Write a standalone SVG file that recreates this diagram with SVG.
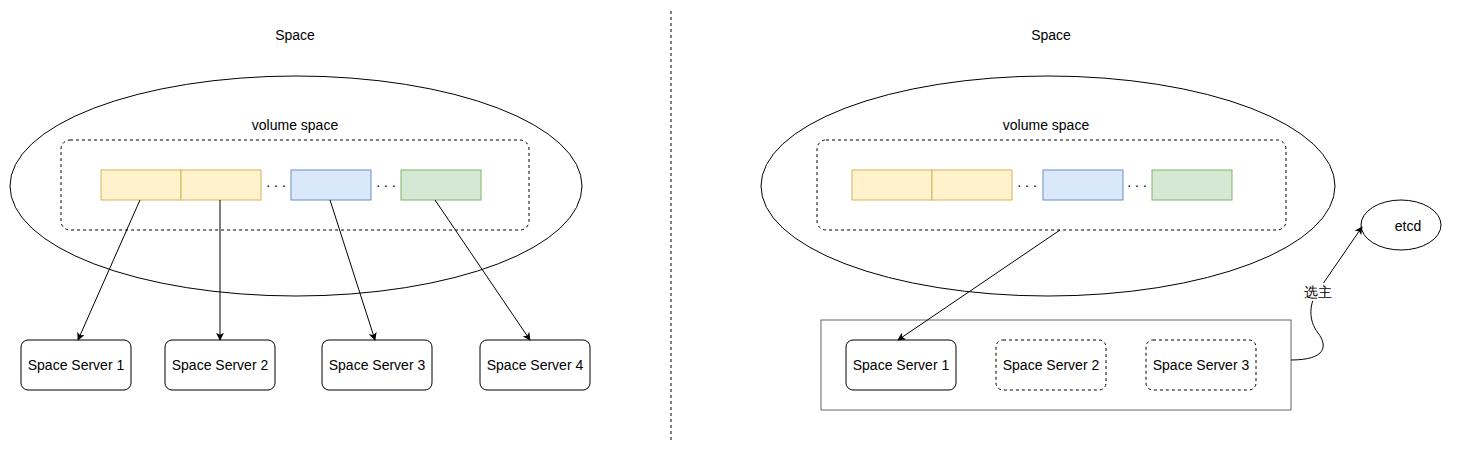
<svg xmlns="http://www.w3.org/2000/svg" width="1462" height="452" viewBox="0 0 1462 452">
<style>
text{font-family:"Liberation Sans",Arial,sans-serif;font-size:14px;fill:#000;text-anchor:middle;dominant-baseline:central}
.ell{fill:#fff;stroke:#000;stroke-width:1}
.dbox{fill:none;stroke:#000;stroke-width:1;stroke-dasharray:3 3}
.y{fill:#fff2cc;stroke:#d6b656}
.b{fill:#dae8fc;stroke:#6c8ebf}
.g{fill:#d5e8d4;stroke:#82b366}
.srv{fill:#fff;stroke:#000;stroke-width:1}
.srvd{fill:#fff;stroke:#000;stroke-width:1;stroke-dasharray:3 3}
.edge{fill:none;stroke:#000;stroke-width:1;marker-end:url(#arr)}
.dots{letter-spacing:4px}
</style>
<defs>
<marker id="arr" viewBox="0 0 10 10" refX="9" refY="5" markerWidth="8" markerHeight="8" markerUnits="userSpaceOnUse" orient="auto">
<path d="M0,0 L10,5 L0,10 L2.5,5 Z" fill="#000"/>
</marker>
</defs>
<rect width="1462" height="452" fill="#fff"/>
<g id="divider"><line x1="671" y1="11" x2="671" y2="440" stroke="#000" stroke-dasharray="3 3"/></g>

<g id="left-space">
<text x="295" y="35">Space</text>
<ellipse class="ell" cx="296" cy="186" rx="286" ry="110"/>
</g>
<g id="left-volume">
<rect class="dbox" x="61" y="140" width="468" height="90" rx="9"/>
<text x="295" y="125">volume space</text>
<rect class="y" x="101" y="170" width="80" height="30"/>
<rect class="y" x="181" y="170" width="80" height="30"/>
<text class="dots" x="278" y="182">...</text>
<rect class="b" x="291" y="170" width="80" height="30"/>
<text class="dots" x="388" y="182">...</text>
<rect class="g" x="401" y="170" width="80" height="30"/>
</g>
<g id="left-ss1"><rect class="srv" x="21" y="340" width="110" height="50" rx="7"/><text x="76" y="365">Space Server 1</text></g>
<g id="left-ss2"><rect class="srv" x="165" y="340" width="110" height="50" rx="7"/><text x="220" y="365">Space Server 2</text></g>
<g id="left-ss3"><rect class="srv" x="322" y="340" width="110" height="50" rx="7"/><text x="377" y="365">Space Server 3</text></g>
<g id="left-ss4"><rect class="srv" x="480" y="340" width="110" height="50" rx="7"/><text x="535" y="365">Space Server 4</text></g>

<g id="right-space">
<text x="1051" y="35">Space</text>
<ellipse class="ell" cx="1048" cy="186" rx="287" ry="110"/>
</g>
<g id="right-volume">
<rect class="dbox" x="817" y="140" width="469" height="90" rx="9"/>
<text x="1046" y="125">volume space</text>
<rect class="y" x="852" y="170" width="80" height="30"/>
<rect class="y" x="932" y="170" width="80" height="30"/>
<text class="dots" x="1029" y="182">...</text>
<rect class="b" x="1043" y="170" width="80" height="30"/>
<text class="dots" x="1139" y="182">...</text>
<rect class="g" x="1152" y="170" width="80" height="30"/>
</g>
<g id="cluster"><rect x="821" y="320" width="470" height="90" fill="none" stroke="#666"/></g>
<g id="right-ss1"><rect class="srv" x="846" y="340" width="110" height="50" rx="7"/><text x="901" y="365">Space Server 1</text></g>
<g id="right-ss2"><rect class="srvd" x="996" y="340" width="110" height="50" rx="7"/><text x="1051" y="365">Space Server 2</text></g>
<g id="right-ss3"><rect class="srvd" x="1146" y="340" width="110" height="50" rx="7"/><text x="1201" y="365">Space Server 3</text></g>
<g id="etcd"><ellipse class="ell" cx="1401" cy="225" rx="40" ry="25"/><text x="1408" y="226">etcd</text></g>

<g id="connectors">
<path class="edge" d="M140,200 L78,340"/>
<path class="edge" d="M220,200 L220,340"/>
<path class="edge" d="M330,200 L375,340"/>
<path class="edge" d="M435,200 L530,340"/>
<path class="edge" d="M1060,230 L898,340"/>
<path class="edge" d="M1291,360 C1326,360 1328,346 1318,333 C1308,320 1309,303 1318,291 L1362,227"/>
<rect x="1302" y="283" width="32" height="18" fill="#fff"/>
<text x="1318" y="292">选主</text>
</g>
</svg>
